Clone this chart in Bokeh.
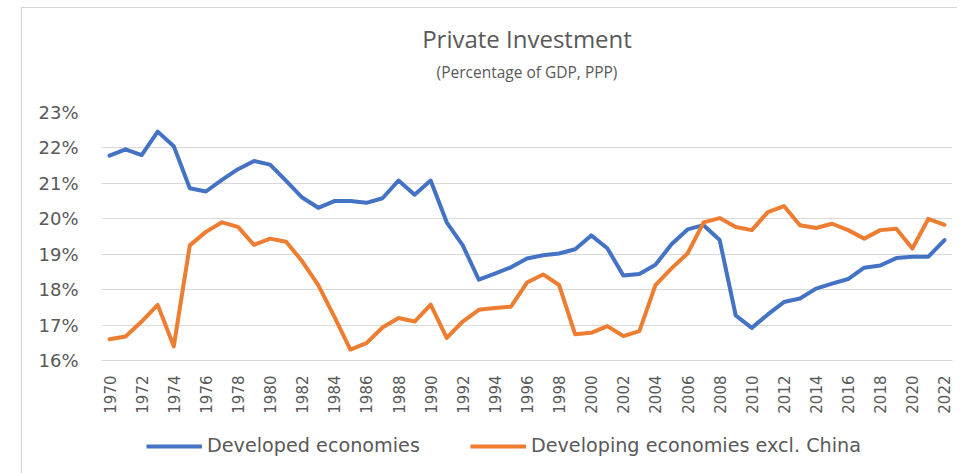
import math
from bokeh.plotting import figure
from bokeh.layouts import column
from bokeh.models import Range1d, Legend, LegendItem, Title
from bokeh.embed import file_html
from bokeh.resources import INLINE

years = list(range(1970, 2023))

developed = [21.78, 21.96, 21.80, 22.46, 22.05, 20.86, 20.77, 21.10, 21.40, 21.63,
             21.53, 21.07, 20.60, 20.31, 20.50, 20.50, 20.45, 20.58, 21.08, 20.68,
             21.08, 19.90, 19.25, 18.28, 18.45, 18.63, 18.88, 18.97, 19.02, 19.14,
             19.53, 19.17, 18.40, 18.44, 18.70, 19.28, 19.70, 19.82, 19.40, 17.27,
             16.92, 17.30, 17.65, 17.75, 18.03, 18.17, 18.30, 18.62, 18.68, 18.89,
             18.93, 18.93, 19.40]

developing = [16.60, 16.68, 17.10, 17.57, 16.40, 19.25, 19.63, 19.90, 19.77, 19.26,
              19.44, 19.35, 18.80, 18.13, 17.24, 16.31, 16.49, 16.93, 17.20, 17.10,
              17.58, 16.64, 17.10, 17.43, 17.48, 17.52, 18.20, 18.43, 18.13, 16.74,
              16.78, 16.97, 16.69, 16.83, 18.13, 18.60, 19.02, 19.90, 20.02, 19.77,
              19.68, 20.19, 20.36, 19.82, 19.74, 19.86, 19.68, 19.44, 19.68, 19.72,
              19.16, 20.00, 19.83]

y_ticks = [16, 17, 18, 19, 20, 21, 22, 23]
x_ticks = list(range(1970, 2023, 2))

series_names = ["Developed economies", "Developing economies excl. China"]
series_colors = ["#4472C4", "#ED7D31"]

title_text = "Private Investment"
subtitle_text = "(Percentage of GDP, PPP)"

TEXT = "#595959"
GRID = "#d9d9d9"
BORDER = "1px solid #d4d4d4"

# ---------------- main chart ----------------
p = figure(width=936, height=413, output_backend="svg", toolbar_location=None,
           x_range=Range1d(1969.5, 2022.5), y_range=Range1d(16, 23),
           min_border_left=79, min_border_right=6, min_border_top=104,
           min_border_bottom=61, margin=(7, 0, 0, 21))
p.styles = {"border-left": BORDER, "border-top": BORDER, "box-sizing": "border-box"}
p.outline_line_color = None
p.background_fill_color = "white"
p.border_fill_color = "white"

p.yaxis.ticker = y_ticks
p.yaxis.major_label_overrides = {t: f"{t}%" for t in y_ticks}
p.yaxis.axis_line_color = None
p.yaxis.major_tick_line_color = None
p.yaxis.minor_tick_line_color = None
p.yaxis.major_tick_out = 0
p.yaxis.major_tick_in = 0
p.yaxis.major_label_standoff = 23
p.yaxis.major_label_text_font = "DejaVu Sans"
p.yaxis.major_label_text_font_size = "18px"
p.yaxis.major_label_text_color = TEXT

p.xaxis.ticker = x_ticks
p.xaxis.major_label_overrides = {t: str(t) for t in x_ticks}
p.xaxis.major_label_orientation = math.pi / 2
p.xaxis.axis_line_color = GRID
p.xaxis.axis_line_width = 1
p.xaxis.major_tick_line_color = None
p.xaxis.minor_tick_line_color = None
p.xaxis.major_tick_out = 0
p.xaxis.major_tick_in = 0
p.xaxis.major_label_standoff = 15
p.xaxis.major_label_text_font = "DejaVu Sans"
p.xaxis.major_label_text_font_size = "15px"
p.xaxis.major_label_text_color = TEXT

p.xgrid.grid_line_color = None
p.ygrid.grid_line_color = GRID
p.ygrid.grid_line_width = 1

p.line(years, developed, line_color=series_colors[0], line_width=4,
       line_join="round", line_cap="round")
p.line(years, developing, line_color=series_colors[1], line_width=4,
       line_join="round", line_cap="round")

# titles (first added sits closest to the frame); a blank spacer keeps the gap
p.add_layout(Title(text=" ", align="center", standoff=12, text_font="Open Sans",
                   text_font_size="10px", text_color=TEXT), "above")
p.add_layout(Title(text=subtitle_text, align="center", standoff=4,
                   text_font="Open Sans", text_font_size="15.5px",
                   text_font_style="normal", text_color=TEXT), "above")
p.add_layout(Title(text=title_text, align="center", standoff=3,
                   text_font="Open Sans", text_font_size="24px",
                   text_font_style="normal", text_color=TEXT), "above")

# ---------------- legend strip ----------------
lg = figure(width=936, height=53, output_backend="svg", toolbar_location=None,
            x_range=Range1d(0, 1), y_range=Range1d(0, 1), min_border=0,
            min_border_left=0, min_border_right=0, min_border_top=0,
            min_border_bottom=0, x_axis_type=None, y_axis_type=None,
            margin=(0, 0, 0, 21))
lg.styles = {"border-left": BORDER, "box-sizing": "border-box"}
lg.outline_line_color = None
lg.grid.visible = False
lg.background_fill_color = "white"
lg.border_fill_color = "white"

# the series themselves (outside this strip's view) supply the legend swatches
k1 = lg.line(years, developed, line_color=series_colors[0], line_width=4)
k2 = lg.line(years, developing, line_color=series_colors[1], line_width=4)

legend = Legend(items=[LegendItem(label=series_names[0], renderers=[k1]),
                       LegendItem(label=series_names[1], renderers=[k2])],
                location=(45, 16), orientation="horizontal", glyph_width=56,
                glyph_height=20, label_standoff=5, spacing=50, padding=0, margin=0,
                border_line_color=None, background_fill_alpha=0,
                label_text_font="DejaVu Sans", label_text_font_size="19.2px",
                label_text_color=TEXT, label_height=20)
lg.add_layout(legend, "center")

layout = column(p, lg, spacing=0)
open("out.html", "w").write(file_html(layout, INLINE))
